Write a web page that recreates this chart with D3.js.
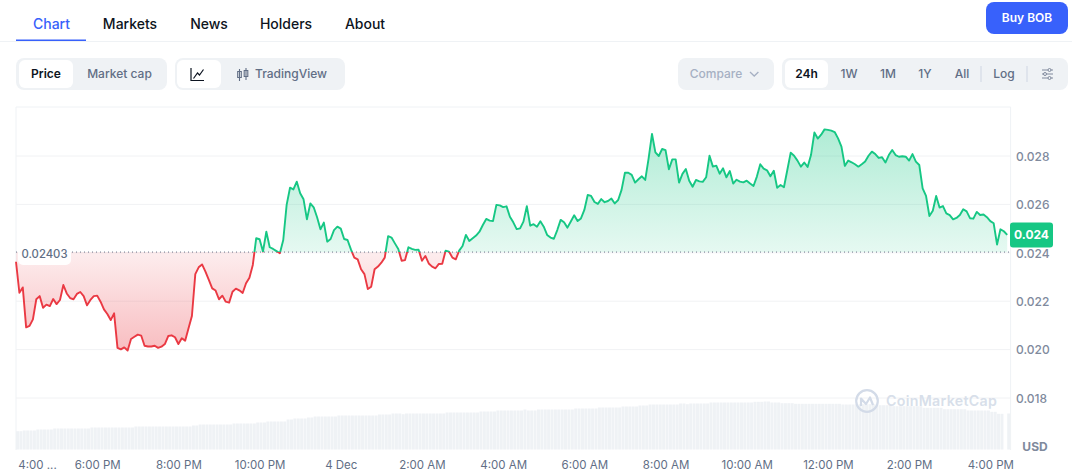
<!DOCTYPE html>
<html>
<head>
<meta charset="utf-8">
<script src="https://d3js.org/d3.v7.min.js"></script>
<style>
    body { margin: 0; background: #fff; overflow: hidden; }
    svg { display: block; font-family: Inter, "Noto Sans", sans-serif; }
</style>
</head>
<body>
<svg id="chart" width="1072" height="473"></svg>
<script>
// 5 minute samples, starting 3 Dec 4:00 PM
const prices = [
    23.63,22.35,22.57,20.92,20.98,21.25,22.08,22.21,21.73,21.86,
    21.80,22.09,21.88,22.05,22.67,22.32,22.13,22.08,22.30,22.38,
    22.21,21.83,22.05,22.21,22.23,21.98,21.66,21.47,21.22,21.50,
    20.07,20.01,20.09,19.96,20.44,20.53,20.62,20.58,20.16,20.13,
    20.13,20.16,20.07,20.12,20.23,20.56,20.59,20.51,20.23,20.47,
    20.37,20.88,21.39,23.12,23.40,23.52,23.22,22.88,22.53,22.44,
    22.08,22.23,21.98,21.94,22.39,22.52,22.45,22.34,22.74,22.97,
    23.50,
    24.60,24.56,24.05,24.87,24.23,24.16,24.07,23.98,24.53,25.98,
    26.69,26.62,26.94,26.46,26.21,25.38,26.04,25.88,25.47,24.97,
    25.25,24.46,24.57,24.94,25.08,25.00,24.57,24.53,24.14,23.80,
    23.73,23.32,23.12,22.50,22.60,23.32,23.43,23.59,23.80,24.69,
    24.63,24.39,24.16,23.67,23.70,24.23,24.16,24.12,24.13,23.67,
    23.87,23.56,23.43,23.36,23.54,23.55,24.09,24.05,23.80,23.73,
    24.09,24.28,24.74,24.49,24.60,24.71,24.87,25.15,25.40,25.33,
    25.31,25.98,25.96,25.89,25.92,25.49,
    25.26,24.98,25.01,25.29,25.93,25.12,25.18,25.08,25.30,25.08,
    24.74,24.63,24.58,24.94,25.36,25.26,25.04,25.29,25.55,25.31,
    25.42,25.77,26.39,26.35,26.10,26.02,26.22,26.09,26.14,26.24,
    26.04,26.18,26.60,27.31,27.31,27.22,26.90,27.04,27.16,27.01,
    27.90,28.91,28.15,28.00,28.29,28.24,27.45,27.86,27.86,26.90,
    27.26,27.46,26.98,26.73,27.01,26.95,26.93,27.12,28.01,27.56,
    27.60,27.27,27.49,27.12,27.38,26.86,27.02,26.94,26.91,26.98,
    26.86,26.76,27.15,27.66,27.48,27.41,27.16,27.39,26.69,26.80,
    26.71,27.42,28.14,28.01,27.81,27.56,27.73,27.55,28.04,28.97,
    28.72,28.88,29.10,29.08,29.05,28.99,28.73,28.39,27.59,27.81,
    27.74,27.66,27.56,27.66,27.77,28.01,28.18,28.08,27.92,27.95,
    27.73,28.04,28.25,28.04,27.97,27.99,27.97,27.81,28.08,27.77,
    27.63,26.66,26.35,25.52,25.74,26.35,25.87,25.93,25.63,25.56,
    25.38,25.44,25.56,25.80,25.71,25.43,25.41,25.69,25.56,25.58,
    25.47,25.31,25.22,24.34,24.97,24.89,24.74
].map(d => d / 1000);

// relative volume, one bar per sample (no scale shown in the picture)
const volumes = [
    18.3,18.3,19,19,19,19,20,20,20,20,20,
    21,21,21,21,21,21,21,21,21,21,21,
    22,22,22,22,22,22,22,22,22,22,22,22,22,
    23,23,23,23,23,23,23,23,23,23,23,23,23,23,23,23,23,
    24,24,25,25,25,25,25,25,25,25,25,25,
    26,26,26,26,26,26,26,27,27,27,
    28,28,28,28,28,28,30,30,31,31,31,31,32,32,
    33,33,33,33,33,33,33,34,34,34,34,34,34,34,34,34,34,34,34,
    35,35,35,35,36,36,36,35.3,
    36,36,36,36,36,36,36,36,36,36,36,36,
    37,37,37,37,37,37,37,37,37,37,38,38,38,38,38,39,39,39,39,
    39,39,39,39,40,39,39,39,
    40,40,40,40,40,40,40,40,40,40,40,
    41,41,41,41,41,41,41,42,42,42,42,42,42,42,43,43,43,43,43,44,44,44,
    45,45,45,45,45,45,45,45,45,46,46,45.3,46,46,46,46,46,46,
    47,47,47,47,47,47,47,47,47,47,47,47,47,
    47.7,47.7,47.7,48,48,47,47,47,46.3,46.3,46.3,46.3,
    45.7,45.7,45.7,45.7,45.7,45.7,45.7,45.7,45.7,45.7,45.7,45.7,45.7,45.7,
    45,45,45,45,45.3,45.3,45.3,45.3,45.3,45.3,45.3,44.3,44.3,44.3,44.3,
    43.3,43.3,43.3,43.3,43.3,43.3,43.3,43.3,43.3,
    41.7,41.7,41.7,41.7,41.7,41.7,40.3,40.3,40.3,40.3,40.3,40.3,40.3,
    39,39,39,39,39,39,39,37.7,37.7,35.7,35.7,0,36
];

const basePrice = 0.02403;
const lastPriceLabel = "0.024";
const yTicks = [0.028, 0.026, 0.024, 0.022, 0.020, 0.018];
const xTickHours = [0, 2, 4, 6, 8, 10, 12, 14, 16, 18, 20, 22, 24];
const xTickLabels = ["4:00 ...", "6:00 PM", "8:00 PM", "10:00 PM", "4 Dec", "2:00 AM", "4:00 AM",
    "6:00 AM", "8:00 AM", "10:00 AM", "12:00 PM", "2:00 PM", "4:00 PM"];
const tabs = ["Chart", "Markets", "News", "Holders", "About"];
const ranges = ["24h", "1W", "1M", "1Y", "All"];

const GREEN = "#16c784", RED = "#ea3943", BLUE = "#3861fb";
const MUTED = "#616e85", AXIS = "#808a9d", PILL = "#eff2f5", GRID = "#f1f2f4";

const svg = d3.select("#chart");
const plotLeft = 16, plotRight = 1010.6, plotTop = 107, plotBottom = 450;
const startTime = new Date(2024, 11, 3, 16, 0);
const atMinutes = m => new Date(startTime.getTime() + m * 60000);
const timeAt = i => atMinutes(i * 5);

const x = d3.scaleTime().domain([startTime, timeAt(294)]).range([plotLeft, plotRight]);
const y = d3.scaleLinear().domain([0.018, 0.028]).range([398, 156]);
const yVol = d3.scaleLinear().domain([0, 50]).range([449.5, 399.5]);

/* Rounded box helper for the page controls */
function box(x0, y0, x1, y1, r, fill) {
    return svg.append("rect").attr("x", x0).attr("y", y0).attr("width", x1 - x0)
        .attr("height", y1 - y0).attr("rx", r).attr("fill", fill);
}
function label(str, cx, cy, size, weight, color, anchor) {
    return svg.append("text").text(str).attr("x", cx).attr("y", cy)
        .attr("dy", "0.35em").attr("text-anchor", anchor || "middle")
        .attr("font-size", size).attr("font-weight", weight).attr("fill", color);
}

// tab row
const tabX = [51.5, 130, 209, 286, 365];
tabs.forEach((t, i) => label(t, tabX[i], 24, 14, 500, i == 0 ? BLUE : "#0d1421"));
svg.append("line").attr("x1", 0).attr("x2", 1072).attr("y1", 41.5).attr("y2", 41.5).attr("stroke", PILL);
box(16, 39.5, 86, 41, 0, BLUE);
box(986, 2, 1068, 34, 8, BLUE);
label("Buy BOB", 1027, 18, 12, 600, "#fff");

// chart type controls
box(16, 58, 167, 90, 8, PILL);
box(19, 60, 73, 88, 6, "#fff");
label("Price", 46, 74, 12, 600, "#0d1421");
label("Market cap", 119.5, 74, 12, 500, MUTED);
box(175, 58, 345, 90, 8, PILL);
box(177, 60, 221, 88, 6, "#fff");
svg.append("path").attr("d", "M191 68V80.5H204M193.5 78.5L197.5 73L199.5 75L203.5 69.5")
    .attr("fill", "none").attr("stroke", "#0d1421").attr("stroke-width", 1.2);
svg.append("path").attr("d", "M239.5 69V81M246 68V80M237.7 71.5h3.6v6h-3.6zM244.2 70.5h3.6v6h-3.6z")
    .attr("fill", "none").attr("stroke", MUTED).attr("stroke-width", 1.1);
label("TradingView", 291, 74, 12, 500, MUTED);

// range controls
box(678, 58, 774, 90, 8, PILL);
label("Compare", 716, 74, 12, 500, "#a6b0c3");
svg.append("path").attr("d", "M750 72L754.2 76L758.4 72").attr("fill", "none").attr("stroke", "#a6b0c3").attr("stroke-width", 1.3);
box(782, 58, 1068, 90, 8, PILL);
box(785, 60, 828, 88, 6, "#fff");
const rangeX = [806.5, 849, 888, 925, 962];
ranges.forEach((t, i) => label(t, rangeX[i], 74, 12, i == 0 ? 600 : 500, i == 0 ? "#0d1421" : MUTED));
box(980.5, 66, 981.5, 82, 0, "#cfd6e4");
label("Log", 1004, 74, 12, 500, MUTED);
box(1026.5, 66, 1027.5, 82, 0, "#cfd6e4");
svg.append("path").attr("d", "M1042 70H1053M1042 74H1053M1042 78H1053").attr("stroke", AXIS).attr("stroke-width", 1);
svg.append("g").selectAll("circle").data([[1049.5, 70], [1045, 74], [1049.5, 78]]).join("circle")
    .attr("cx", d => d[0]).attr("cy", d => d[1]).attr("r", 1.5)
    .attr("fill", PILL).attr("stroke", AXIS);

// frame and grid
const frame = "M" + plotLeft + " " + plotBottom + "V" + plotTop + "H" + plotRight + "V" + plotBottom;
svg.append("path").attr("d", frame).attr("fill", "none").attr("stroke", PILL).attr("stroke-width", 1);
svg.append("g").selectAll("line").data(yTicks).join("line")
    .attr("x1", plotLeft).attr("x2", plotRight)
    .attr("y1", d => y(d)).attr("y2", d => y(d))
    .attr("stroke", GRID);

// volume bars
const step = x(timeAt(1)) - x(timeAt(0));
svg.append("g").selectAll("rect").data(volumes).join("rect")
    .attr("x", (d, i) => x(timeAt(i)))
    .attr("width", step - 0.4)
    .attr("y", d => yVol(d))
    .attr("height", d => yVol(0) - yVol(d))
    .attr("fill", "#eff2f5");

// watermark
svg.append("circle").attr("cx", 867).attr("cy", 401).attr("r", 10.8)
    .attr("fill", "none").attr("stroke", "#d3dbe8").attr("stroke-width", 2.2);
svg.append("path").attr("d", "M861 406V398.5L866 404L870 397.5L873 405")
    .attr("fill", "none").attr("stroke", "#d3dbe8").attr("stroke-width", 2.2).attr("stroke-linejoin", "round");
label("CoinMarketCap", 886, 401.5, 14.2, 600, "#d8dfea", "start").attr("letter-spacing", 0.3);

// gradients
const defs = svg.append("defs");
function gradient(id, color, a0, a1, y0, y1) {
    const g = defs.append("linearGradient").attr("id", id)
        .attr("gradientUnits", "userSpaceOnUse")
        .attr("x1", 0).attr("x2", 0).attr("y1", y0).attr("y2", y1);
    g.append("stop").attr("offset", 0).attr("stop-color", color).attr("stop-opacity", a0);
    g.append("stop").attr("offset", 1).attr("stop-color", color).attr("stop-opacity", a1);
}
const baseY = y(basePrice);
gradient("fillUp", GREEN, 0.34, 0.11, y(0.0291), baseY);
gradient("fillDown", RED, 0.09, 0.33, baseY, y(0.020));
defs.append("clipPath").attr("id", "above").append("rect")
    .attr("x", 0).attr("y", 0).attr("width", 1072).attr("height", baseY);
defs.append("clipPath").attr("id", "below").append("rect")
    .attr("x", 0).attr("y", baseY).attr("width", 1072).attr("height", 473 - baseY);

// price area and line, split at the reference price
const area = d3.area().x((d, i) => x(timeAt(i))).y0(baseY).y1(d => y(d));
const line = d3.line().x((d, i) => x(timeAt(i))).y(d => y(d));
[["above", "fillUp", GREEN], ["below", "fillDown", RED]].forEach(s => {
    const g = svg.append("g").attr("clip-path", "url(#" + s[0] + ")");
    g.append("path").datum(prices).attr("d", area).attr("fill", "url(#" + s[1] + ")");
    g.append("path").datum(prices).attr("d", line).attr("fill", "none")
        .attr("stroke", s[2]).attr("stroke-width", 1.9).attr("stroke-linejoin", "round");
});

// reference price
svg.append("line").attr("x1", plotLeft).attr("x2", plotRight).attr("y1", baseY).attr("y2", baseY)
    .attr("stroke", "#6b7488").attr("stroke-dasharray", "1 3");
box(18, 244, 71, 265, 5, "#fff").attr("opacity", 0.95);
label(d3.format(".5f")(basePrice), 44.5, 254, 11.3, 500, MUTED);

// axes
const xAxis = d3.axisBottom(x).tickSize(0)
    .tickValues(xTickHours.map(h => atMinutes(h * 60)))
    .tickFormat((d, i) => xTickLabels[i]);
const gx = svg.append("g").attr("transform", "translate(0," + 459.5 + ")").call(xAxis);
gx.select(".domain").remove();
gx.selectAll("text").attr("font-size", 11.5).attr("font-family", "Inter").attr("fill", MUTED).attr("y", 1).attr("dy", "0.71em");
gx.select(".tick text").attr("dx", 21);

const yAxis = d3.axisRight(y).tickSize(0).tickValues(yTicks).tickFormat(d3.format(".3f"));
const gy = svg.append("g").attr("transform", "translate(" + 1016 + ",0.5)").call(yAxis);
gy.select(".domain").remove();
gy.selectAll("text").attr("x", 0).attr("font-size", 12).attr("font-weight", 500).attr("font-family", "Inter").attr("fill", AXIS);
label("USD", 1035, 447, 12, 700, AXIS);

// last price tag
const lastY = y(prices[prices.length - 1]);
box(1010, lastY - 12.5, 1053, lastY + 12.5, 3, GREEN);
label(lastPriceLabel, 1031.5, lastY, 12, 700, "#fff");
</script>
</body>
</html>
